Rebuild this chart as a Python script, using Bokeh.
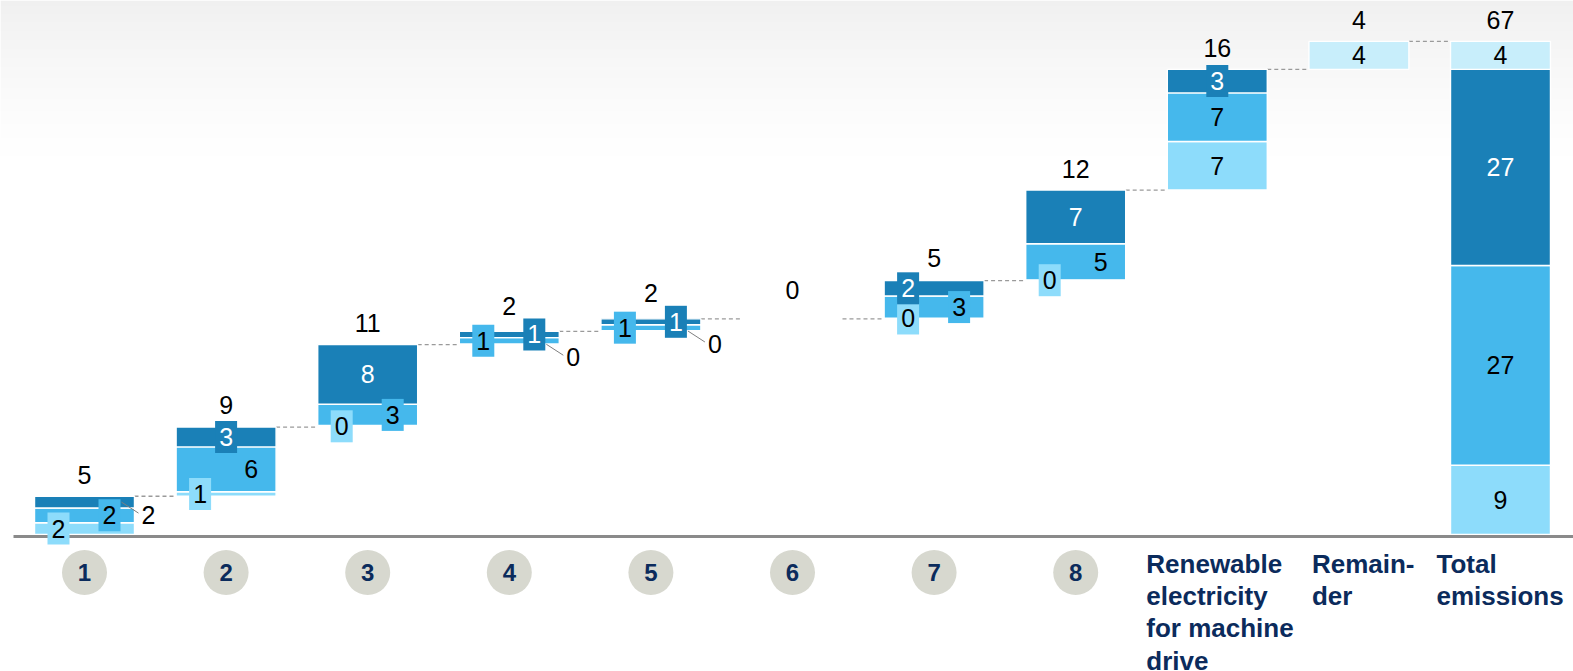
import math
import numpy as np
from bokeh.plotting import figure
from bokeh.models import Range1d, ColumnDataSource
from bokeh.core.properties import value
from bokeh.embed import file_html
from bokeh.resources import INLINE

# ---- data ---------------------------------------------------------------
step_names = ["1", "2", "3", "4", "5", "6", "7", "8"]
named_columns = ["Renewable\nelectricity\nfor machine\ndrive", "Remain-\nder", "Total\nemissions"]
light = [1.6, 0.6, 0.2, 0.1, 0.1, 0.0, 0.1, 0.1, 6.6]
mid = [2.0, 6.1, 2.9, 0.85, 0.8, 0.0, 3.0, 4.9, 6.6]
dark = [1.6, 2.7, 8.1, 0.85, 0.8, 0.0, 2.1, 7.3, 3.2]
remainder = 3.8

# ---- layout and style ---------------------------------------------------
W, H = 1573, 671
X0_PX, STEP_PX = 84.0, 141.6      # centre of first column, column pitch
BASE_PX, UNIT_PX = 534.0, 7.36    # baseline position, pixels per unit
HALF = 0.353                      # half bar width in column units
C_LIGHT, C_MID, C_DARK, C_REST = "#8ddcfb", "#45b8ec", "#1a80b7", "#c8eefb"
NAVY = "#0b2b5c"
FONT = value("Liberation Sans")
NUM_SIZE = "25px"

# horizontal spot of each segment label (light, mid, dark) in px from the
# column centre; None puts the label outside the bar with a leader line
L, C, R = -26, 0, 25
placement = [
    (L, R, None), (L, R, C), (L, R, C), (None, L, R), (None, L, R),
    (None, None, None), (L, R, L), (L, R, C), (C, C, C),
]
# distance in px from the top of each column to its total label
top_gap = [21, 22, 22, 25, 26, 29, 23, 21, 21, 21, 21]


def px_x(d):
    return d / STEP_PX


def px_y(d):
    return d / UNIT_PX


def fmt(v):
    return str(int(math.floor(v + 0.5)))


x_start = -X0_PX / STEP_PX
x_end = (W - X0_PX) / STEP_PX
y_start = -(H - BASE_PX) / UNIT_PX
y_end = BASE_PX / UNIT_PX

p = figure(width=W, height=H, title=None, toolbar_location=None, output_backend="svg",
           x_range=Range1d(x_start, x_end), y_range=Range1d(y_start, y_end),
           x_axis_type=None, y_axis_type=None, min_border=0,
           outline_line_color=None, background_fill_color="white",
           border_fill_color="white")

# soft grey fade at the top of the page
gh = 170
t = np.linspace(0.0, 1.0, gh)
shade = np.round(255 - 15 * t ** 1.4).astype(np.uint8)
img = np.empty((gh, 1), dtype=np.uint32)
view = img.view(dtype=np.uint8).reshape((gh, 1, 4))
view[:, 0, 0] = shade
view[:, 0, 1] = shade
view[:, 0, 2] = shade
view[:, 0, 3] = 255
p.image_rgba(image=[img], x=x_start, y=y_end - px_y(gh), dw=x_end - x_start, dh=px_y(gh))

seg = dict(left=[], right=[], bottom=[], top=[], color=[])
boxes = dict(x=[], y=[], color=[])
seg_text = dict(x=[], y=[], text=[], color=[])
leaders = dict(x0=[], y0=[], x1=[], y1=[])
out_text = dict(x=[], y=[], text=[])
tops, totals = [], []


def add_segment(i, b, v, colour, place):
    seg["left"].append(i - HALF)
    seg["right"].append(i + HALF)
    seg["bottom"].append(b)
    seg["top"].append(b + v)
    seg["color"].append(colour)
    centre = b + v / 2
    txt_col = "white" if colour == C_DARK else "black"
    if place is None:
        leaders["x0"].append(i + px_x(37))
        leaders["y0"].append(centre)
        leaders["x1"].append(i + px_x(54))
        leaders["y1"].append(centre - px_y(11))
        out_text["x"].append(i + px_x(64))
        out_text["y"].append(centre - px_y(13))
        out_text["text"].append(fmt(v))
        return
    lx = i + px_x(place)
    if v * UNIT_PX < 26:
        boxes["x"].append(lx)
        boxes["y"].append(centre)
        boxes["color"].append(colour)
    seg_text["x"].append(lx)
    seg_text["y"].append(centre)
    seg_text["text"].append(fmt(v))
    seg_text["color"].append(txt_col)


# waterfall steps
cum = 0.0
for i in range(len(light)):
    base = cum
    for k, (vals, colour) in enumerate(((light, C_LIGHT), (mid, C_MID), (dark, C_DARK))):
        v = vals[i]
        if v > 0:
            add_segment(i, base, v, colour, placement[i][k])
        base += v
    totals.append(base - cum)
    cum = base
    tops.append(cum)

# remainder
i_rem = len(light)
add_segment(i_rem, cum, remainder, C_REST, C)
totals.append(remainder)
cum += remainder
tops.append(cum)

# total column
i_tot = i_rem + 1
base = 0.0
for v, colour in ((sum(light), C_LIGHT), (sum(mid), C_MID), (sum(dark), C_DARK), (remainder, C_REST)):
    add_segment(i_tot, base, v, colour, C)
    base += v
totals.append(base)
tops.append(base)

# dashed connectors between neighbouring columns
con = dict(x0=[], x1=[], y=[])
for i in range(len(tops) - 1):
    con["x0"].append(i + HALF)
    con["x1"].append(i + 1 - HALF)
    con["y"].append(tops[i])
p.segment(x0="x0", y0="y", x1="x1", y1="y", source=ColumnDataSource(con),
          line_color="#9a9a9a", line_width=1.3, line_dash="4 3")

p.quad(left="left", right="right", bottom="bottom", top="top", fill_color="color",
       line_color="white", line_width=1.4, source=ColumnDataSource(seg))

# baseline
p.segment(x0=[x_start + px_x(13)], y0=[-px_y(2)], x1=[x_end], y1=[-px_y(2)],
          line_color="#8a8a8a", line_width=3)

p.rect(x="x", y="y", width=22, height=32, width_units="screen", height_units="screen",
       fill_color="color", line_color=None, source=ColumnDataSource(boxes))
p.segment(x0="x0", y0="y0", x1="x1", y1="y1", source=ColumnDataSource(leaders),
          line_color="#7f7f7f", line_width=1)

p.text(x="x", y="y", text="text", text_color="color", source=ColumnDataSource(seg_text),
       text_font=FONT, text_font_size=NUM_SIZE, text_align="center", text_baseline="middle")
p.text(x="x", y="y", text="text", source=ColumnDataSource(out_text), text_color="black",
       text_font=FONT, text_font_size=NUM_SIZE, text_align="center", text_baseline="middle")

# column totals above the bars
top_lbl = dict(x=list(range(len(tops))),
               y=[tp + px_y(g) for tp, g in zip(tops, top_gap)],
               text=[fmt(v) for v in totals])
p.text(x="x", y="y", text="text", source=ColumnDataSource(top_lbl), text_color="black",
       text_font=FONT, text_font_size=NUM_SIZE, text_align="center", text_baseline="middle")

# category markers under the axis
cy = -px_y(572 - BASE_PX)
cat = dict(x=list(range(len(step_names))), y=[cy] * len(step_names), text=step_names)
p.scatter(x="x", y="y", size=45, marker="circle", fill_color="#d7d8cf", line_color=None,
          source=ColumnDataSource(cat))
p.text(x="x", y="y", text="text", source=ColumnDataSource(cat), text_color=NAVY,
       text_font=FONT, text_font_style="bold", text_font_size="24px",
       text_align="center", text_baseline="middle")

name_offsets = [-71, -47, -64]
names = dict(x=[len(step_names) + j + px_x(o) for j, o in enumerate(name_offsets)],
             y=[-px_y(548 - BASE_PX)] * 3, text=named_columns)
p.text(x="x", y="y", text="text", source=ColumnDataSource(names), text_color=NAVY,
       text_font=FONT, text_font_style="bold", text_font_size="26px",
       text_align="left", text_baseline="top", text_line_height=1.08)

open("out.html", "w").write(file_html(p, INLINE))
